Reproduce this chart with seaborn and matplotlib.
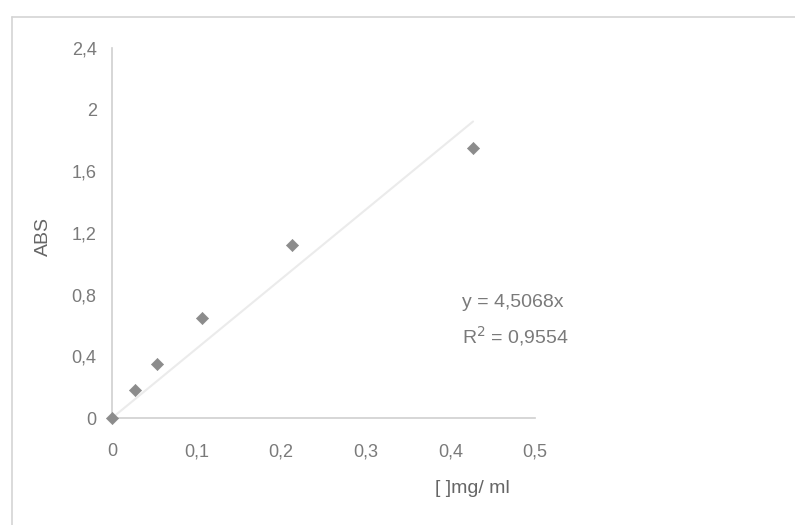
import numpy as np
import pandas as pd
import matplotlib
matplotlib.use("Agg")
import matplotlib.pyplot as plt
from matplotlib.lines import Line2D
import seaborn as sns

# Calibration data: concentration (mg/ml) vs absorbance
conc = [0.0, 0.0267, 0.0533, 0.1067, 0.2133, 0.4267]
absorbance = [0.0, 0.18, 0.35, 0.65, 1.12, 1.75]
slope = 4.5068
r_squared = 0.9554

x_ticks = [0, 0.1, 0.2, 0.3, 0.4, 0.5]
x_tick_labels = ["0", "0,1", "0,2", "0,3", "0,4", "0,5"]
y_ticks = [0, 0.4, 0.8, 1.2, 1.6, 2.0, 2.4]
y_tick_labels = ["0", "0,4", "0,8", "1,2", "1,6", "2", "2,4"]

sns.set_style("white")
plt.rcParams["font.family"] = ["Liberation Sans", "DejaVu Sans"]

text_color = "#7a7a7a"
axis_color = "#cfcfcf"

fig = plt.figure(figsize=(7.95, 5.25), dpi=100)
ax = fig.add_axes([0.1409, 0.2038, 0.673 - 0.1409, 0.9086 - 0.2038])

df = pd.DataFrame({"conc": conc, "abs": absorbance})
fit = pd.DataFrame({"conc": [0.0, max(conc)],
                    "abs": [0.0, slope * max(conc)]})

sns.lineplot(data=fit, x="conc", y="abs", ax=ax, color="#ebebeb", linewidth=1.5)
pts = sns.scatterplot(data=df, x="conc", y="abs", ax=ax, marker="D", s=38,
                      color="#8c8c8c", edgecolor="#8c8c8c", linewidth=0.5,
                      zorder=3, clip_on=False)

ax.set_xlim(0, 0.5)
ax.set_ylim(0, 2.4)
ax.set_xticks(x_ticks)
ax.set_xticklabels(x_tick_labels)
ax.set_yticks(y_ticks)
ax.set_yticklabels(y_tick_labels)
ax.tick_params(axis="both", colors=axis_color, labelcolor=text_color,
               labelsize=13, length=5, width=1, direction="out")
ax.tick_params(axis="x", pad=13)
ax.tick_params(axis="y", pad=6)

for side in ("top", "right"):
    ax.spines[side].set_visible(False)
for side in ("left", "bottom"):
    ax.spines[side].set_color(axis_color)
    ax.spines[side].set_linewidth(1.2)

ax.set_xlabel("[ ]mg/ ml", color="#666666", fontsize=14)
ax.xaxis.set_label_coords(0.853, -0.168)
ax.set_ylabel("ABS", color="#666666", fontsize=14)
ax.yaxis.set_label_coords(-0.142, 0.49)

ax.text(0.827, 0.311, f"y = {slope:.4f}x".replace(".", ","),
        transform=ax.transAxes, color=text_color, fontsize=14, va="center")
ax.text(0.827, 0.222, "R$^{2}$ = " + f"{r_squared:.4f}".replace(".", ","),
        transform=ax.transAxes, color=text_color, fontsize=14, va="center")

# chart-area frame (left and top edges)
fig.add_artist(Line2D([12 / 795, 12 / 795], [0, 1 - 17 / 525],
                      transform=fig.transFigure, color="#d4d4d4", linewidth=1.2))
fig.add_artist(Line2D([12 / 795, 1], [1 - 17 / 525, 1 - 17 / 525],
                      transform=fig.transFigure, color="#d4d4d4", linewidth=1.2))

fig.savefig("out.png", dpi=100)
